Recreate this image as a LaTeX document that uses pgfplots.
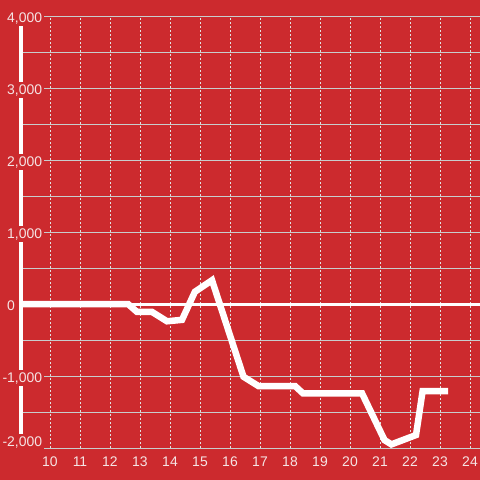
\documentclass[border=0pt]{standalone}
\usepackage{fontspec}
\setmainfont{Liberation Sans}
\usepackage{pgfplots}
\pgfplotsset{compat=1.18}
\definecolor{bgred}{RGB}{204,42,46}
\definecolor{gridgray}{RGB}{200,205,205}
\definecolor{vgrid}{RGB}{225,225,225}
\definecolor{txt}{RGB}{245,228,228}
\begin{document}
\begin{tikzpicture}
\useasboundingbox (0,0) rectangle (480bp,480bp);
\fill[bgred] (0,0) rectangle (480bp,480bp);
\begin{axis}[
  at={(21bp,32bp)}, anchor=south west,
  scale only axis, width=459bp, height=432bp,
  xmin=9.0333, xmax=24.3333, ymin=-2000, ymax=4000,
  clip=false,
  axis lines*=left,
  x axis line style={draw=none},
  y axis line style={white, line width=3bp, shorten <=0pt},
  tick style={draw=none},
  xtick={10,11,...,24},
  ytick={-2000,-1000,0,1000,2000,3000,4000},
  yticklabels={{\raisebox{8bp}{\llap{-}2,000}},{\llap{-}1,000},0,{1,000},{2,000},{3,000},{4,000}},
  minor ytick={-1500,-500,500,1500,2500,3500},
  xmajorgrids, ymajorgrids, yminorgrids,
  x grid style={vgrid, line width=0.9bp, dash pattern=on 2bp off 2bp},
  y grid style={gridgray, line width=1bp},
  minor y grid style={gridgray, line width=1bp},
  /pgf/number format/assume math mode=true,
  ticklabel style={font=\fontsize{14}{16}\selectfont, text=txt},
  yticklabel style={anchor=base west, xshift=-16bp, yshift=-6bp, fill=bgred, inner sep=2bp},
  xticklabel style={anchor=base, yshift=-18bp},
]
\draw[white, line width=3bp] (axis cs:9.0333,0) -- (axis cs:24.3333,0);
\addplot[white, line width=6.5bp, line join=miter, line cap=butt, mark=none] coordinates {
  (8.97,0) (12.6,0) (12.9,-110) (13.4,-110) (13.9,-240) (14.4,-220)
  (14.83,170) (15.4,330) (16.45,-1010) (16.95,-1140) (18.17,-1140)
  (18.43,-1240) (20.4,-1240) (21.15,-1890) (21.38,-1950) (22.2,-1820)
  (22.42,-1210) (23.27,-1210)
};
\end{axis}
\end{tikzpicture}
\end{document}
